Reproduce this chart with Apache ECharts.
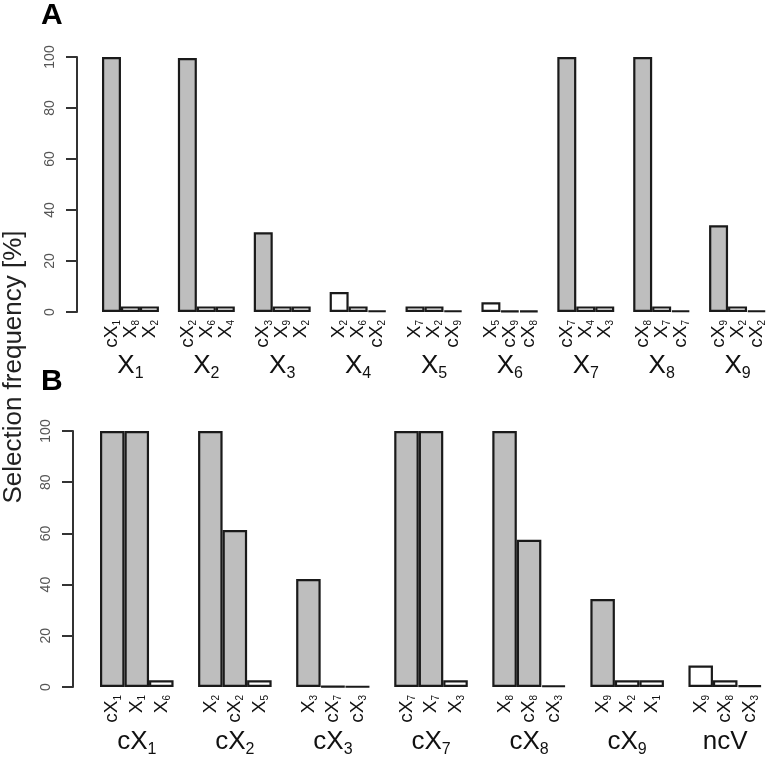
<!DOCTYPE html>
<html>
<head>
<meta charset="utf-8">
<script src="https://cdn.jsdelivr.net/npm/echarts@6/dist/echarts.min.js"></script>
<style>html,body{margin:0;padding:0;background:#fff}#c{width:772px;height:760px}</style>
</head>
<body>
<div id="c"></div>
<script>
// ---------- DATA ----------
const groupsA = ['X1','X2','X3','X4','X5','X6','X7','X8','X9'];
const subLabelsA = [
  ['cX1','X8','X2'], ['cX2','X6','X4'], ['cX3','X9','X2'],
  ['X2','X6','cX2'], ['X7','X2','cX9'], ['X5','cX9','cX8'],
  ['cX7','X4','X3'], ['cX8','X7','cX7'], ['cX9','X2','cX2']
];
const valuesA = [
  [100, 2.2, 2.2], [99.6, 2.2, 2.2], [31.3, 2.2, 2.2],
  [7.8, 2.2, 0.6], [2.2, 2.2, 0.6], [3.8, 0.5, 0.5],
  [100, 2.2, 2.2], [100, 2.2, 0.6], [34, 2.2, 0.6]
];
const trueA = [
  [1,0,0],[1,0,0],[1,0,0],[0,0,0],[0,0,0],[0,0,0],[1,0,0],[1,0,0],[1,0,0]
];

const groupsB = ['cX1','cX2','cX3','cX7','cX8','cX9','ncV'];
const subLabelsB = [
  ['cX1','X1','X6'], ['X2','cX2','X5'], ['X3','cX7','cX3'],
  ['cX7','X7','X3'], ['X8','cX8','cX3'], ['X9','X2','X1'], ['X9','cX8','cX3']
];
const valuesB = [
  [100, 100, 2.6], [100, 61.3, 2.6], [42.2, 0.3, 0.2],
  [100, 100, 2.6], [100, 57.5, 0.6], [34.4, 2.6, 2.6], [8.4, 2.6, 0.7]
];
const trueB = [
  [1,1,0],[1,1,0],[1,0,0],[1,1,0],[1,1,0],[1,0,0],[0,0,0]
];

const yTicks = [0, 20, 40, 60, 80, 100];
const yAxisTitle = 'Selection frequency [%]';

// ---------- BUILD ----------
const FONT = 'Liberation Sans, Arial, Helvetica, sans-serif';
const GRAY = '#bebebe';

function build(groups, subs, vals, flags) {
  const cats = [], grp = [], data = [];
  groups.forEach((g, i) => {
    for (let j = 0; j < 3; j++) {
      cats.push(subs[i][j]);
      grp.push(j === 1 ? g : '');
      data.push({ value: vals[i][j], itemStyle: { color: flags[i][j] ? GRAY : '#ffffff' } });
    }
    if (i < groups.length - 1) { cats.push(''); grp.push(''); data.push('-'); }
  });
  return { cats, grp, data };
}
const A = build(groupsA, subLabelsA, valuesA, trueA);
const B = build(groupsB, subLabelsB, valuesB, trueB);

function subFmt(v) {
  if (!v) return '';
  const m = v.match(/^(\D*)(\d*)$/);
  return m[2] ? '{m|' + m[1] + '}{s|' + m[2] + '}' : '{m|' + m[1] + '}';
}

const subRich = {
  m: { fontSize: 19, fontFamily: FONT, color: '#111', lineHeight: 21 },
  s: { fontSize: 10, fontFamily: FONT, color: '#111', verticalAlign: 'bottom' }
};
const grpRich = {
  m: { fontSize: 26, fontFamily: FONT, color: '#111', lineHeight: 32 },
  s: { fontSize: 16, fontFamily: FONT, color: '#111', verticalAlign: 'bottom' }
};

function subAxis(gridIndex, cats, margin) {
  return {
    type: 'category', gridIndex, position: 'bottom', data: cats, boundaryGap: true,
    axisLine: { show: false }, axisTick: { show: false }, splitLine: { show: false },
    axisLabel: { interval: 0, rotate: 90, margin, formatter: subFmt, rich: subRich, hideOverlap: false }
  };
}
function grpAxis(gridIndex, grp, margin) {
  return {
    type: 'category', gridIndex, position: 'bottom', data: grp, boundaryGap: true,
    axisLine: { show: false }, axisTick: { show: false }, splitLine: { show: false },
    axisLabel: { interval: 0, margin, formatter: subFmt, rich: grpRich, hideOverlap: false }
  };
}
function yAx(gridIndex, offset) {
  return {
    type: 'value', gridIndex, min: yTicks[0], max: yTicks[yTicks.length - 1],
    interval: yTicks[1] - yTicks[0], position: 'left', offset,
    splitLine: { show: false },
    axisLine: { show: true, lineStyle: { color: '#333', width: 2 } },
    axisTick: { show: true, length: 11, lineStyle: { color: '#333', width: 2 } },
    axisLabel: { rotate: 90, margin: 20, fontSize: 14, color: '#555', fontFamily: FONT }
  };
}
const barStyle = { borderColor: '#1a1a1a', borderWidth: 2.2 };

const option = {
  backgroundColor: '#fff',
  animation: false,
  title: [
    { text: 'A', left: 41, top: 1, padding: 0, textStyle: { fontSize: 30, fontWeight: 'bold', fontFamily: FONT, color: '#000' } },
    { text: 'B', left: 41, top: 367, padding: 0, textStyle: { fontSize: 30, fontWeight: 'bold', fontFamily: FONT, color: '#000' } }
  ],
  graphic: [{
    type: 'text', x: 14, y: 367, rotation: Math.PI / 2,
    style: { text: yAxisTitle, fontSize: 26, fontFamily: FONT, fill: '#222', align: 'center', verticalAlign: 'middle' }
  }],
  grid: [
    { left: 102, right: 6, top: 57, height: 255 },
    { left: 100, right: 10, top: 431, height: 256 }
  ],
  xAxis: [
    subAxis(0, A.cats, 8), grpAxis(0, A.grp, 38),
    subAxis(1, B.cats, 8), grpAxis(1, B.grp, 39)
  ],
  yAxis: [yAx(0, 25), yAx(1, 27)],
  series: [
    { type: 'bar', xAxisIndex: 0, yAxisIndex: 0, data: A.data, barCategoryGap: '0%', itemStyle: barStyle },
    { type: 'bar', xAxisIndex: 2, yAxisIndex: 1, data: B.data, barCategoryGap: '0%', itemStyle: barStyle }
  ]
};
const chart = echarts.init(document.getElementById('c'), null, { renderer: 'canvas' });
chart.setOption(option);
</script>
</body>
</html>
